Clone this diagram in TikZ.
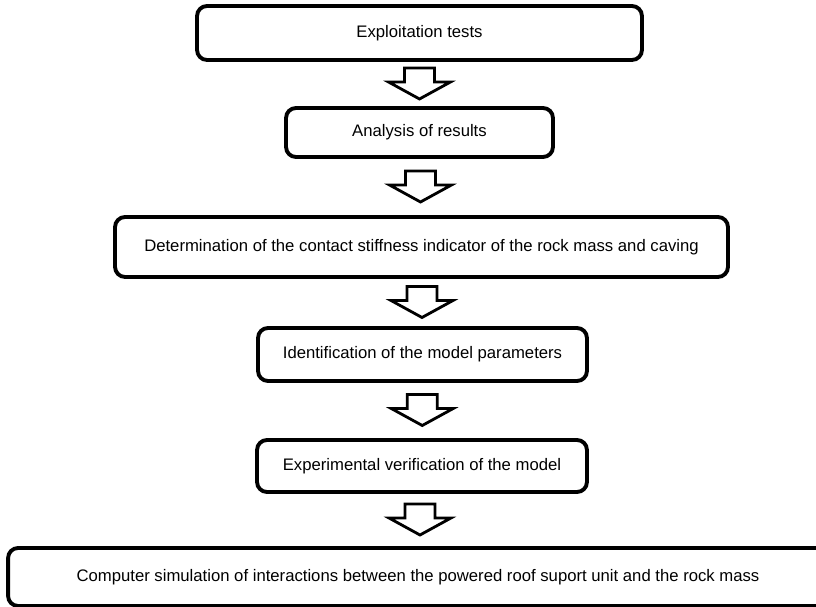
\documentclass[tikz,border=0pt]{standalone}
\usepackage{fontspec}
\setmainfont{Liberation Sans}
\usetikzlibrary{calc}

% hollow block arrow between two boxes
\newcommand{\flowarrow}[2]{%
	\coordinate (m) at ($(#1.south)!0.5!(#2.north)$);
	\draw[hollowarrow] (m) ++(-15,-16) -- ++(30,0) -- ++(0,14) -- ++(16,0) -- ++(-31,17) -- ++(-31,-17) -- ++(16,0) -- cycle;}

\begin{document}
\begin{tikzpicture}[x=0.02cm,y=-0.02cm,
		box/.style={draw,line width=2.2pt,rounded corners=0.2cm,inner sep=0pt,font=\fontsize{9.5}{11}\selectfont},
		hollowarrow/.style={draw,fill=white,line width=1.6pt,line join=miter}]
			% Frame
			\useasboundingbox (0,0) rectangle (816,607);
			\clip (0,0) rectangle (816,607);
			
			% Boxes
			\node[box,minimum width=8.9cm,minimum height=1.08cm] (tests) at (419.5,33) {Exploitation tests};
			\node[box,minimum width=5.34cm,minimum height=0.98cm] (analysis) at (419.5,132.5) {Analysis of results};
			\node[box,minimum width=12.26cm,minimum height=1.2cm] (stiffness) at (421.5,247) {Determination of the contact stiffness indicator of the rock mass and caving};
			\node[box,minimum width=6.58cm,minimum height=1.06cm] (ident) at (422.5,354.5) {Identification of the model parameters};
			\node[box,minimum width=6.6cm,minimum height=1.04cm] (verif) at (422,466) {Experimental verification of the model};
			\node[box,minimum width=16.4cm,minimum height=1.16cm] (simul) at (418,577) {Computer simulation of interactions between the powered roof suport unit and the rock mass};
			
			% Arrows
			\flowarrow{tests}{analysis}
			\flowarrow{analysis}{stiffness}
			\flowarrow{stiffness}{ident}
			\flowarrow{ident}{verif}
			\flowarrow{verif}{simul}
		\end{tikzpicture}
\end{document}
